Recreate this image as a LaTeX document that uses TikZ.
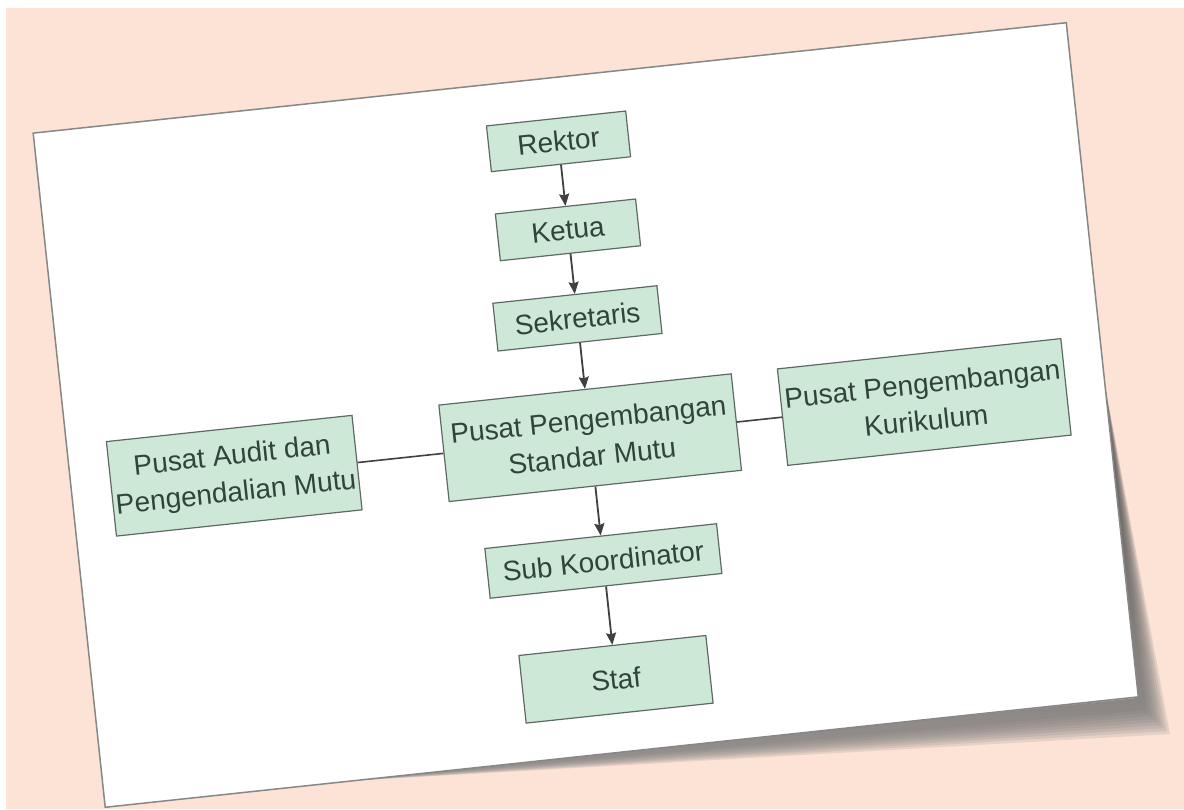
\documentclass[tikz,border=0pt]{standalone}
\usepackage{fontspec}
\setmainfont{Liberation Sans}
\usetikzlibrary{arrows.meta}
\definecolor{peach}{RGB}{252,227,214}
\definecolor{shade}{RGB}{150,136,129}
\definecolor{mint}{RGB}{205,232,215}
\definecolor{edge}{RGB}{95,105,100}
\definecolor{ink}{RGB}{48,68,58}
\definecolor{cardline}{RGB}{135,135,135}
\tikzstyle{box} = [rectangle, text centered, align=center, draw=edge, fill=mint, line width=1.2pt, text=ink, inner sep=1pt, font=\fontsize{28}{37}\selectfont, transform shape]
\tikzstyle{arrow} = [-{Stealth[length=12pt,width=10pt,inset=1.5pt]}, draw=black!75, line width=1.8pt]
\tikzstyle{link} = [draw=black!75, line width=1.6pt]

\begin{document}
\begin{tikzpicture}[x=1pt,y=-1pt,node distance=89pt]
	\useasboundingbox (0,0) rectangle (1184,809);
	\fill[white] (0,0) rectangle (1184,809);
	\fill[peach] (6,8) rectangle (1184,809);
	% shadow under the card, soft edge
	\foreach \s in {0,3,...,24}
		\fill[shade, opacity=0.09] (1104,380) -- (1170-\s,734-\s) -- (330,782) -- (1137,698) -- cycle;
	\begin{scope}[shift={(585.75,415)}, rotate=6.1]
	\draw[cardline, line width=1.5pt, fill=white] (-519.5,-339) rectangle (519.5,339);
	\node (rektor) [box, minimum width=140pt, minimum height=46pt] at (2,-275) {Rektor};
	\node (ketua) [box, minimum width=141pt, minimum height=47pt, below of=rektor] {Ketua};
	\node (sek) [box, minimum width=165pt, minimum height=48pt, below of=ketua] {Sekretaris};
	\node (ppsm) [box, minimum width=294pt, minimum height=97pt, below of=sek, yshift=-31pt] {Pusat Pengembangan\\Standar Mutu};
	\node (audit) [box, minimum width=247pt, minimum height=95pt, left of=ppsm, xshift=-269pt] {Pusat Audit dan\\Pengendalian Mutu};
	\node (kur) [box, minimum width=285pt, minimum height=97pt, right of=ppsm, xshift=247pt] {Pusat Pengembangan\\Kurikulum};
	\node (sub) [box, minimum width=233pt, minimum height=50pt, below of=ppsm, yshift=-35pt] {Sub Koordinator};
	\node (staf) [box, minimum width=188pt, minimum height=68pt, below of=sub, yshift=-30pt] {Staf};
	\draw [arrow](rektor) -- (ketua);
	\draw [arrow](ketua) -- (sek);
	\draw [arrow](sek) -- (ppsm);
	\draw [arrow](ppsm) -- (sub);
	\draw [arrow](sub) -- (staf);
	\draw [link](audit) -- (ppsm);
	\draw [link](ppsm) -- (kur);
	\end{scope}
\end{tikzpicture}
\end{document}
